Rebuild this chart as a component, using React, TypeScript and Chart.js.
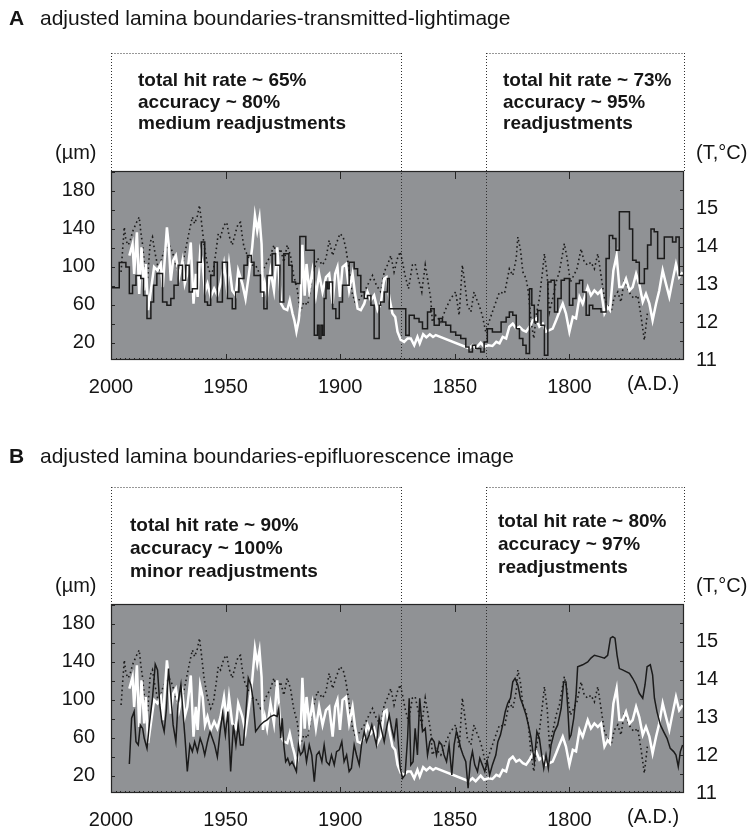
import React, { useEffect, useRef } from "react";
import { Chart, registerables } from "chart.js";

Chart.register(...registerables);

const FONT = '"Liberation Sans", Arial, Helvetica, sans-serif';
const PLOT_BG = "#909295";
const INK = "#151515";

// axis ticks
const yearTicks = [2000, 1950, 1900, 1850, 1800];
const thicknessTicks = [20, 60, 100, 140, 180];
const temperatureTicks = [11, 12, 13, 14, 15];
// years of the dotted annotation boxes (left box, right box)
const boxYears = [2000, 1873.5, 1836.4, 1750];

// white line: temperature (°C), shared by both panels
const temperature: [number, number][] = [
  [1992.0, 13.76], [1990.6, 14.07], [1989.9, 13.28], [1988.7, 14.38], [1987.7, 12.75], [1986.7, 13.98],
  [1985.5, 12.84], [1984.8, 13.54], [1983.8, 12.32], [1982.6, 12.84], [1981.2, 13.46], [1979.7, 13.37],
  [1978.3, 13.54], [1977.4, 12.93], [1975.6, 14.51], [1974.8, 14.03], [1973.9, 13.1], [1972.9, 13.63],
  [1971.7, 13.76], [1970.3, 13.19], [1968.8, 13.63], [1967.8, 13.02], [1966.7, 13.28], [1965.2, 14.11],
  [1964.0, 12.49], [1963.0, 13.28], [1962.2, 12.67], [1961.1, 13.85], [1960.0, 13.54], [1959.0, 12.8],
  [1957.9, 13.02], [1956.5, 12.67], [1955.0, 12.89], [1953.6, 12.71], [1952.2, 13.02], [1950.7, 13.54],
  [1949.5, 12.93], [1948.5, 13.54], [1947.1, 12.84], [1945.6, 12.71], [1944.5, 13.37], [1942.7, 13.02],
  [1941.3, 12.62], [1939.8, 13.28], [1938.4, 13.98], [1937.2, 14.82], [1936.2, 14.42], [1935.2, 14.77],
  [1934.3, 14.07], [1933.7, 12.67], [1932.9, 13.02], [1931.9, 12.71], [1930.4, 13.37], [1928.9, 12.84],
  [1927.5, 13.98], [1926.6, 13.19], [1925.8, 12.49], [1924.6, 12.36], [1923.1, 12.32], [1922.0, 12.58],
  [1920.8, 12.23], [1920.0, 12.05], [1919.1, 11.75], [1918.1, 12.05], [1917.3, 12.5], [1916.5, 14.05],
  [1915.5, 12.7], [1914.7, 13.54], [1913.5, 12.84], [1912.1, 13.37], [1910.6, 12.71], [1909.2, 13.28],
  [1907.7, 12.8], [1906.2, 13.19], [1904.8, 13.28], [1903.3, 12.49], [1902.2, 13.28], [1901.2, 13.46],
  [1900.1, 12.67], [1899.0, 13.46], [1897.5, 13.54], [1896.1, 12.84], [1894.6, 13.28], [1893.5, 12.75],
  [1892.4, 12.36], [1891.0, 12.32], [1889.5, 12.49], [1888.1, 12.8], [1886.6, 12.58], [1885.2, 12.71],
  [1883.7, 12.32], [1882.3, 12.49], [1880.8, 13.15], [1879.8, 13.19], [1878.6, 12.67], [1877.2, 12.23],
  [1876.0, 12.14], [1875.0, 11.75], [1873.6, 11.53], [1872.1, 11.48], [1870.6, 11.57], [1869.2, 11.57],
  [1867.7, 11.39], [1866.3, 11.61], [1865.3, 11.44], [1863.8, 11.68], [1862.4, 11.6], [1860.9, 11.68],
  [1859.5, 11.61], [1858.3, 11.66], [1843.8, 11.31], [1842.3, 11.39], [1840.9, 11.31], [1838.7, 11.46],
  [1837.2, 11.35], [1835.3, 11.39], [1833.6, 11.37], [1831.9, 11.48], [1830.5, 11.44], [1829.1, 11.61],
  [1827.6, 11.57], [1826.2, 11.88], [1824.7, 11.96], [1823.2, 11.83], [1821.8, 11.88], [1820.3, 11.79],
  [1818.9, 11.75], [1817.4, 11.88], [1816.0, 12.05], [1814.5, 12.1], [1813.1, 11.88], [1811.6, 11.96],
  [1810.2, 11.75], [1808.7, 11.79], [1807.3, 11.83], [1805.8, 12.05], [1804.4, 12.27], [1802.9, 12.49],
  [1801.5, 12.23], [1800.0, 11.75], [1798.5, 12.14], [1797.1, 12.1], [1795.6, 12.67], [1794.2, 12.49],
  [1792.0, 12.93], [1790.6, 12.71], [1789.1, 12.84], [1787.6, 12.75], [1786.2, 12.84], [1784.7, 12.23],
  [1783.3, 12.4], [1782.3, 12.32], [1780.8, 13.37], [1779.4, 13.76], [1778.2, 12.93], [1776.8, 12.93],
  [1775.3, 13.15], [1773.8, 12.84], [1772.4, 12.93], [1770.9, 13.28], [1769.5, 13.0], [1768.0, 12.54],
  [1766.6, 12.75], [1765.1, 12.49], [1763.7, 12.05], [1762.2, 12.49], [1760.8, 12.84], [1759.3, 13.37],
  [1757.9, 13.02], [1756.4, 12.67], [1755.0, 13.1], [1753.5, 13.54], [1752.1, 13.19], [1750.6, 13.32],
];

// dotted line (µm), shared by both panels
const referenceThickness: [number, number][] = [
  [1995.6, 94.7], [1994.9, 119], [1994.2, 142], [1993.5, 128], [1992.5, 123], [1991.6, 128],
  [1990.6, 137], [1989.1, 145.6], [1987.7, 152.6], [1987.0, 137], [1986.2, 123], [1985.5, 105],
  [1984.8, 91], [1984.0, 88], [1982.9, 126], [1981.9, 131.6], [1980.9, 116], [1979.7, 102],
  [1979.0, 98], [1977.5, 112], [1976.1, 119], [1974.6, 123], [1973.2, 116], [1971.7, 102],
  [1970.3, 91], [1968.8, 102], [1967.4, 119], [1965.9, 137], [1964.5, 152.6], [1963.5, 145.6],
  [1962.3, 154], [1961.4, 165], [1960.6, 149], [1959.4, 123], [1957.9, 102], [1956.5, 91],
  [1955.3, 98], [1954.2, 116], [1953.2, 135], [1952.2, 131.6], [1950.7, 144], [1949.5, 147],
  [1948.5, 133], [1947.1, 123], [1945.6, 137], [1944.5, 145.6], [1943.5, 147], [1942.7, 131.6],
  [1942.0, 121], [1940.8, 114], [1939.8, 109], [1938.4, 102], [1936.9, 101.8], [1934.8, 91],
  [1932.6, 101.8], [1930.4, 112], [1928.9, 123], [1927.5, 109], [1926.0, 119], [1924.6, 105],
  [1923.1, 123], [1921.7, 112], [1920.3, 91], [1918.8, 77], [1917.4, 52.6], [1915.9, 63],
  [1914.2, 60], [1912.1, 91], [1909.9, 109], [1907.7, 102], [1906.2, 109], [1904.8, 128],
  [1903.3, 112], [1901.9, 123], [1900.1, 135], [1898.7, 131.6], [1897.5, 119], [1896.4, 102],
  [1894.9, 73.7], [1893.2, 60], [1891.4, 66.7], [1889.5, 73.7], [1887.4, 84], [1885.9, 91],
  [1884.2, 80.7], [1882.3, 73.7], [1880.8, 94.7], [1879.4, 102], [1877.9, 112], [1876.5, 94.7],
  [1875.0, 109], [1873.8, 116], [1872.8, 105], [1871.7, 91], [1870.2, 77], [1868.5, 102],
  [1867.3, 103.5], [1865.9, 87.7], [1864.4, 73.7], [1862.9, 102], [1861.9, 87.7], [1860.5, 66.7],
  [1859.8, 42], [1858.3, 49], [1856.1, 42], [1853.9, 56], [1851.8, 66.7], [1849.6, 73.7],
  [1848.1, 49], [1846.7, 102], [1845.7, 84], [1844.5, 59.6], [1843.0, 52.6], [1841.6, 73.7],
  [1840.6, 66.7], [1839.4, 59.6], [1838.0, 49], [1836.5, 31.6], [1835.1, 42], [1833.6, 52.6],
  [1830.5, 73.7], [1828.3, 72], [1826.2, 98], [1824.7, 91], [1823.2, 109], [1822.5, 131.6],
  [1821.4, 119], [1820.3, 94.7], [1818.9, 87.7], [1817.9, 73.7], [1816.7, 42], [1815.5, 24.6],
  [1814.5, 49], [1813.1, 66.7], [1811.6, 98], [1810.9, 114], [1809.7, 91], [1808.7, 52.6],
  [1807.3, 66.7], [1805.8, 84], [1804.4, 94.7], [1802.2, 124.6], [1801.0, 109], [1799.6, 84],
  [1798.1, 91], [1796.7, 98], [1794.9, 119], [1793.5, 105], [1792.0, 101.8], [1790.6, 105],
  [1789.1, 98], [1787.6, 114], [1786.2, 91], [1784.7, 66.7], [1783.3, 59.6], [1781.8, 52.6],
  [1780.4, 68.4], [1778.9, 73.7], [1777.5, 63], [1776.0, 87.7], [1774.6, 77], [1773.1, 70],
  [1771.7, 66.7], [1770.2, 70], [1768.8, 49], [1767.3, 22.8], [1765.9, 52.6],
];

// black line, panel A (µm): stepped, value held from each year to the next
const transmittedThickness: [number, number][] = [
  [2000.0, 78], [1996.4, 104.6], [1993.5, 100], [1992.0, 72], [1990.6, 80.7], [1989.1, 91],
  [1987.0, 87.7], [1985.8, 70], [1984.3, 45.6], [1982.6, 63], [1981.4, 80.7], [1980.0, 93],
  [1977.5, 63], [1975.6, 59.6], [1973.9, 66.7], [1972.5, 80.7], [1970.7, 101.8], [1968.8, 86],
  [1967.4, 101.8], [1965.9, 73.7], [1964.5, 77], [1962.3, 105], [1960.6, 126.3], [1959.1, 63],
  [1957.9, 59.6], [1956.5, 91], [1955.0, 105], [1953.6, 63], [1951.4, 105], [1949.2, 66.7],
  [1947.1, 56], [1945.6, 73.7], [1944.2, 87.7], [1942.0, 101.8], [1940.5, 112], [1938.8, 105],
  [1937.6, 91], [1934.8, 73.7], [1933.3, 56], [1931.9, 91], [1929.7, 114], [1928.2, 101.8],
  [1926.3, 63], [1924.6, 114], [1922.4, 101.8], [1921.0, 84], [1919.5, 82.5], [1917.6, 132],
  [1915.0, 117.5], [1911.3, 28], [1909.9, 38.6], [1909.2, 24.6], [1908.4, 38.6], [1907.7, 28],
  [1907.0, 66.7], [1906.2, 84], [1905.5, 77], [1904.8, 84], [1903.3, 56], [1901.9, 45.6],
  [1900.4, 63], [1899.0, 80.7], [1896.1, 105], [1893.9, 98], [1892.4, 91], [1891.0, 73.7],
  [1889.5, 66.7], [1888.1, 70], [1886.6, 59.6], [1885.2, 24.6], [1883.0, 59.6], [1882.3, 63],
  [1880.8, 73.7], [1879.4, 87.7], [1878.6, 56], [1871.4, 28], [1869.9, 49], [1867.7, 45.6],
  [1865.6, 42], [1864.1, 35], [1861.9, 52.6], [1860.5, 56], [1859.0, 38.6], [1856.8, 45.6],
  [1855.4, 42], [1853.9, 38.6], [1851.8, 31.6], [1849.6, 28], [1847.4, 24.6], [1845.2, 15.8],
  [1843.8, 10.5], [1842.3, 17.5], [1840.9, 14], [1838.7, 10.5], [1837.2, 21], [1835.8, 35],
  [1833.6, 31.6], [1829.8, 42], [1827.6, 47], [1826.2, 52.6], [1824.7, 49], [1823.2, 35],
  [1821.8, 24.6], [1820.3, 17.5], [1818.9, 8.8], [1817.4, 77], [1816.4, 59.6], [1815.3, 42],
  [1813.8, 54], [1812.4, 38.6], [1810.9, 7], [1809.4, 84], [1808.0, 86], [1806.5, 52.6],
  [1805.1, 66.7], [1803.6, 86], [1802.2, 87.7], [1800.0, 59.6], [1798.5, 66.7], [1797.1, 82.5],
  [1795.6, 86], [1794.2, 73.7], [1792.7, 49], [1791.3, 59.6], [1789.8, 56], [1786.2, 52.6],
  [1784.0, 109], [1782.6, 133], [1781.1, 130], [1779.7, 117.5], [1778.2, 158], [1773.8, 140],
  [1772.4, 107], [1770.9, 105], [1769.5, 82.5], [1767.3, 98], [1765.9, 123], [1764.4, 140],
  [1763.0, 137], [1761.5, 109], [1758.6, 131.6], [1755.0, 126.3], [1753.5, 131.6], [1752.1, 91],
  [1750.0, 91],
];

// black line, panel B (µm)
const epifluorescenceThickness: [number, number][] = [
  [1992.0, 32.6], [1991.0, 80.7], [1989.9, 87.7], [1989.1, 56], [1988.1, 52.6], [1987.2, 73.7],
  [1986.2, 70], [1985.5, 59.6], [1984.3, 49], [1983.3, 73.7], [1981.9, 101.8], [1980.7, 137.5],
  [1979.7, 131.6], [1978.7, 94.7], [1977.8, 77], [1976.8, 66.7], [1975.8, 91], [1974.9, 133],
  [1973.9, 105], [1972.9, 73.7], [1971.7, 56], [1970.7, 98], [1969.5, 116], [1968.5, 84],
  [1967.7, 59.6], [1966.7, 24.6], [1965.6, 52.6], [1964.5, 45.6], [1963.5, 56], [1962.3, 45.6],
  [1961.1, 59.6], [1960.1, 52.6], [1959.1, 42], [1957.9, 56], [1956.8, 66.7], [1955.8, 59.6],
  [1954.8, 52.6], [1953.6, 40], [1952.4, 66.7], [1951.3, 86], [1950.1, 63], [1949.0, 87.7],
  [1947.8, 24.6], [1946.6, 73.7], [1945.5, 52.6], [1944.5, 73.7], [1943.5, 52.6], [1942.3, 52.6],
  [1941.3, 80.7], [1940.1, 123], [1939.0, 116], [1938.1, 101.8], [1936.9, 66.7], [1935.9, 70],
  [1934.8, 73.7], [1933.3, 77], [1931.9, 79], [1930.4, 82.5], [1928.9, 84], [1927.5, 82.5],
  [1926.8, 91], [1926.0, 59.6], [1925.3, 80.7], [1924.6, 52.6], [1923.8, 35], [1922.9, 38.6],
  [1922.0, 31.6], [1921.0, 35], [1920.0, 29.8], [1919.1, 24.6], [1918.2, 52.6], [1917.4, 42],
  [1916.3, 45.6], [1915.7, 52.6], [1914.7, 35], [1913.5, 52.6], [1912.4, 42], [1911.3, 14],
  [1910.3, 42], [1909.2, 45.6], [1908.0, 35], [1907.0, 52.6], [1906.0, 35], [1904.8, 31.6],
  [1903.8, 42], [1902.6, 31.6], [1901.6, 45.6], [1900.4, 47.4], [1899.3, 56], [1898.3, 35],
  [1897.2, 42], [1896.1, 24.6], [1895.1, 28], [1893.9, 52.6], [1892.9, 42], [1891.7, 31.6],
  [1890.7, 52.6], [1889.5, 66.7], [1888.5, 56], [1887.4, 63], [1886.2, 73.7], [1885.2, 63],
  [1884.2, 52.6], [1883.0, 80.7], [1881.8, 66.7], [1880.8, 56], [1879.8, 70], [1878.6, 84],
  [1877.5, 70], [1876.5, 59.6], [1875.4, 80.7], [1874.6, 52.6], [1873.8, 28], [1872.8, 17.5],
  [1871.7, 21], [1870.6, 59.6], [1869.9, 101.8], [1869.2, 31.6], [1868.2, 35], [1867.3, 70],
  [1866.3, 42], [1865.3, 101.8], [1864.1, 66.7], [1862.9, 70], [1861.9, 42], [1860.9, 56],
  [1860.0, 59.6], [1859.0, 56], [1858.0, 42], [1856.8, 56], [1855.7, 52.6], [1854.7, 42],
  [1853.6, 35], [1852.5, 52.6], [1851.3, 21], [1850.3, 52.6], [1849.3, 66.7], [1848.4, 59.6],
  [1847.4, 49], [1846.4, 42], [1845.2, 35], [1844.2, 7], [1843.2, 35], [1842.3, 45.6],
  [1841.3, 31.6], [1840.1, 24.6], [1839.1, 38.6], [1838.0, 31.6], [1836.9, 24.6], [1835.8, 35],
  [1834.8, 21], [1833.6, 31.6], [1832.1, 42], [1831.2, 56], [1830.1, 63], [1829.1, 73.7],
  [1828.0, 87.7], [1826.9, 96.5], [1825.7, 101.8], [1824.7, 119], [1823.7, 122.8], [1822.5, 115.8],
  [1821.4, 101.8], [1820.3, 94.7], [1818.9, 84], [1817.9, 73.7], [1816.7, 59.6], [1816.0, 47],
  [1815.3, 35], [1814.2, 66.7], [1813.1, 59.6], [1812.1, 42], [1811.2, 28], [1810.2, 42],
  [1809.2, 28], [1808.0, 52.6], [1806.5, 66.7], [1805.1, 73.7], [1803.6, 91], [1802.5, 119],
  [1801.5, 119], [1800.7, 91], [1800.0, 59.6], [1799.3, 63], [1798.1, 80.7], [1797.1, 105],
  [1796.4, 135], [1794.2, 137], [1792.0, 140], [1790.6, 144], [1789.1, 147], [1786.9, 145.6],
  [1784.7, 144], [1783.3, 147], [1782.1, 165], [1781.1, 166.7], [1780.1, 165], [1779.2, 147],
  [1778.2, 133], [1776.8, 131.6], [1775.3, 129.8], [1773.8, 128], [1772.4, 122.8], [1770.9, 116],
  [1769.5, 107], [1768.0, 101.8], [1767.0, 116], [1766.1, 135], [1764.7, 137], [1763.7, 126.3],
  [1762.9, 101.8], [1761.8, 87.7], [1760.3, 73.7], [1758.9, 66.7], [1757.4, 59.6], [1756.0, 49],
  [1754.5, 45.6], [1753.5, 42], [1752.5, 29.8], [1751.6, 45.6], [1750.6, 52.6],
];

type PanelDef = {
  letter: string;
  title: string;
  leftText: string[];
  rightText: string[];
  black: [number, number][];
  stepped: boolean;
  height: number;
  top: number;
  boxTop: number;
  titleY: number;
  leftTextX: number;
  rightTextX: number;
  leftTextY: number;
  rightTextY: number;
  lineGap: number;
};

const panels: PanelDef[] = [
  {
    letter: "A",
    title: "adjusted lamina boundaries-transmitted-lightimage",
    leftText: ["total hit rate ~ 65%", "accuracy ~ 80%", "medium readjustments"],
    rightText: ["total hit rate ~ 73%", "accuracy ~ 95%", "readjustments"],
    black: transmittedThickness,
    stepped: true,
    height: 433,
    top: 0,
    boxTop: 53,
    titleY: 18,
    leftTextX: 138,
    rightTextX: 503,
    leftTextY: 80,
    rightTextY: 80,
    lineGap: 21.5,
  },
  {
    letter: "B",
    title: "adjusted lamina boundaries-epifluorescence image",
    leftText: ["total hit rate ~ 90%", "accuracy ~ 100%", "minor readjustments"],
    rightText: ["total hit rate ~ 80%", "accuracy ~ 97%", "readjustments"],
    black: epifluorescenceThickness,
    stepped: false,
    height: 398,
    top: 433,
    boxTop: 54,
    titleY: 23,
    leftTextX: 130,
    rightTextX: 498,
    leftTextY: 91,
    rightTextY: 87,
    lineGap: 23,
  },
];

function decorPlugin(boxTop: number) {
  return {
    id: "panelDecor",
    beforeDatasetsDraw(chart: any) {
      const { ctx, chartArea: a, scales } = chart;
      const xs = scales.x;
      ctx.save();
      ctx.fillStyle = PLOT_BG;
      ctx.fillRect(a.left, a.top, a.right - a.left, a.bottom - a.top);
      const [l1, r1, l2, r2] = boxYears.map((v) => Math.round(xs.getPixelForValue(v)) + 0.5);
      ctx.strokeStyle = "#303030";
      ctx.lineWidth = 1;
      ctx.setLineDash([1, 2]);
      ctx.beginPath();
      ctx.moveTo(l1, boxTop + 0.5);
      ctx.lineTo(r1, boxTop + 0.5);
      ctx.moveTo(l2, boxTop + 0.5);
      ctx.lineTo(r2, boxTop + 0.5);
      ctx.moveTo(l1, boxTop);
      ctx.lineTo(l1, a.top);
      ctx.moveTo(r2, boxTop);
      ctx.lineTo(r2, a.top);
      ctx.moveTo(r1, boxTop);
      ctx.lineTo(r1, a.bottom);
      ctx.moveTo(l2, boxTop);
      ctx.lineTo(l2, a.bottom);
      ctx.stroke();
      ctx.restore();
    },
    afterDatasetsDraw(chart: any) {
      const { ctx, chartArea: a, scales } = chart;
      const xs = scales.x;
      const yl = scales.y;
      const yr = scales.yT;
      ctx.save();
      ctx.strokeStyle = "#262626";
      ctx.lineWidth = 1.2;
      ctx.strokeRect(a.left + 0.5, a.top + 0.5, a.right - a.left - 1, a.bottom - a.top - 1);
      ctx.lineWidth = 1;
      ctx.beginPath();
      for (const yv of yearTicks.slice(1)) {
        const px = Math.round(xs.getPixelForValue(yv)) + 0.5;
        ctx.moveTo(px, a.bottom);
        ctx.lineTo(px, a.bottom - 6);
        ctx.moveTo(px, a.top);
        ctx.lineTo(px, a.top + 8);
      }
      for (let yv = 1752; yv < 2000; yv += 2) {
        const px = Math.round(xs.getPixelForValue(yv)) + 0.5;
        ctx.moveTo(px, a.bottom);
        ctx.lineTo(px, a.bottom - 2);
      }
      for (let v = 20; v <= 200; v += 20) {
        const py = Math.round(yl.getPixelForValue(v)) + 0.5;
        ctx.moveTo(a.left, py);
        ctx.lineTo(a.left + 4, py);
      }
      for (let t = 11.5; t < 16; t += 0.5) {
        const py = Math.round(yr.getPixelForValue(t)) + 0.5;
        ctx.moveTo(a.right, py);
        ctx.lineTo(a.right - 4, py);
      }
      ctx.stroke();
      ctx.restore();
    },
  };
}

function buildConfig(p: PanelDef): any {
  const pts = (arr: [number, number][]) => arr.map(([x, y]) => ({ x, y }));
  const tickFont = { family: FONT, size: 20 };
  return {
    type: "line",
    data: {
      datasets: [
        {
          label: "lamina thickness",
          data: pts(p.black),
          yAxisID: "y",
          borderColor: "#1b1b1b",
          borderWidth: 1.5,
          stepped: p.stepped,
          pointRadius: 0,
          tension: 0,
          fill: false,
        },
        {
          label: "temperature",
          data: pts(temperature),
          yAxisID: "yT",
          borderColor: "#ffffff",
          borderWidth: 2.5,
          pointRadius: 0,
          tension: 0,
          fill: false,
        },
        {
          label: "reference",
          data: pts(referenceThickness),
          yAxisID: "y",
          borderColor: "#1b1b1b",
          borderWidth: 1.6,
          borderDash: [1.6, 3],
          pointRadius: 0,
          tension: 0,
          fill: false,
        },
      ],
    },
    options: {
      responsive: false,
      animation: false,
      events: [],
      layout: { padding: { top: 171, left: 0, right: 0, bottom: 0 } },
      plugins: { legend: { display: false }, tooltip: { enabled: false }, title: { display: false } },
      scales: {
        x: {
          type: "linear",
          reverse: true,
          min: 1750,
          max: 2000,
          position: "bottom",
          afterBuildTicks: (s: any) => {
            s.ticks = yearTicks.map((v) => ({ value: v }));
          },
          afterFit: (s: any) => {
            s.height = p.height - 360;
          },
          grid: { display: false, drawTicks: false },
          border: { display: false },
          ticks: {
            color: INK,
            font: tickFont,
            padding: 15,
            maxRotation: 0,
            autoSkip: false,
            callback: (v: any) => String(v),
          },
        },
        y: {
          type: "linear",
          position: "left",
          min: 2,
          max: 201,
          afterBuildTicks: (s: any) => {
            s.ticks = thicknessTicks.map((v) => ({ value: v }));
          },
          afterFit: (s: any) => {
            s.width = 111;
          },
          grid: { display: false, drawTicks: false },
          border: { display: false },
          ticks: { color: INK, font: tickFont, padding: 16, callback: (v: any) => String(v) },
        },
        yT: {
          type: "linear",
          position: "right",
          min: 11,
          max: 16,
          afterBuildTicks: (s: any) => {
            s.ticks = temperatureTicks.map((v) => ({ value: v }));
          },
          afterFit: (s: any) => {
            s.width = 68;
          },
          grid: { display: false, drawTicks: false },
          border: { display: false },
          ticks: { color: INK, font: tickFont, padding: 12, callback: (v: any) => String(v) },
        },
      },
    },
    plugins: [decorPlugin(p.boxTop)],
  };
}

const abs = (left: number, centerY: number, lh: number, extra: React.CSSProperties = {}): React.CSSProperties => ({
  position: "absolute",
  left,
  top: centerY - lh / 2,
  lineHeight: `${lh}px`,
  whiteSpace: "nowrap",
  ...extra,
});

function Panel({ p }: { p: PanelDef }) {
  const ref = useRef<HTMLCanvasElement | null>(null);
  useEffect(() => {
    if (!ref.current) return;
    const chart = new Chart(ref.current, buildConfig(p));
    return () => chart.destroy();
  }, [p]);
  const boxFont: React.CSSProperties = { fontSize: 19, fontWeight: "bold" };
  return (
    <div style={{ position: "absolute", left: 0, top: p.top, width: 752, height: p.height }}>
      <canvas ref={ref} width={752} height={p.height} style={{ display: "block", width: 752, height: p.height }} />
      <div style={abs(9, p.titleY, 24, { fontSize: 21, fontWeight: "bold" })}>{p.letter}</div>
      <div style={abs(40, p.titleY, 24, { fontSize: 21 })}>{p.title}</div>
      <div style={{ ...abs(p.leftTextX, p.leftTextY, p.lineGap, boxFont) }}>
        {p.leftText.map((t) => (
          <div key={t}>{t}</div>
        ))}
      </div>
      <div style={{ ...abs(p.rightTextX, p.rightTextY, p.lineGap, boxFont) }}>
        {p.rightText.map((t) => (
          <div key={t}>{t}</div>
        ))}
      </div>
      <div style={abs(55, 152, 24, { fontSize: 20 })}>(µm)</div>
      <div style={abs(696, 152, 24, { fontSize: 20 })}>(T,°C)</div>
      <div style={abs(627, 383, 24, { fontSize: 20 })}>(A.D.)</div>
    </div>
  );
}

export default function App() {
  useEffect(() => {
    document.body.style.margin = "0";
  }, []);
  return (
    <div style={{ position: "relative", width: 752, height: 831, background: "#fff", fontFamily: FONT, color: INK }}>
      {panels.map((p) => (
        <Panel key={p.letter} p={p} />
      ))}
    </div>
  );
}
